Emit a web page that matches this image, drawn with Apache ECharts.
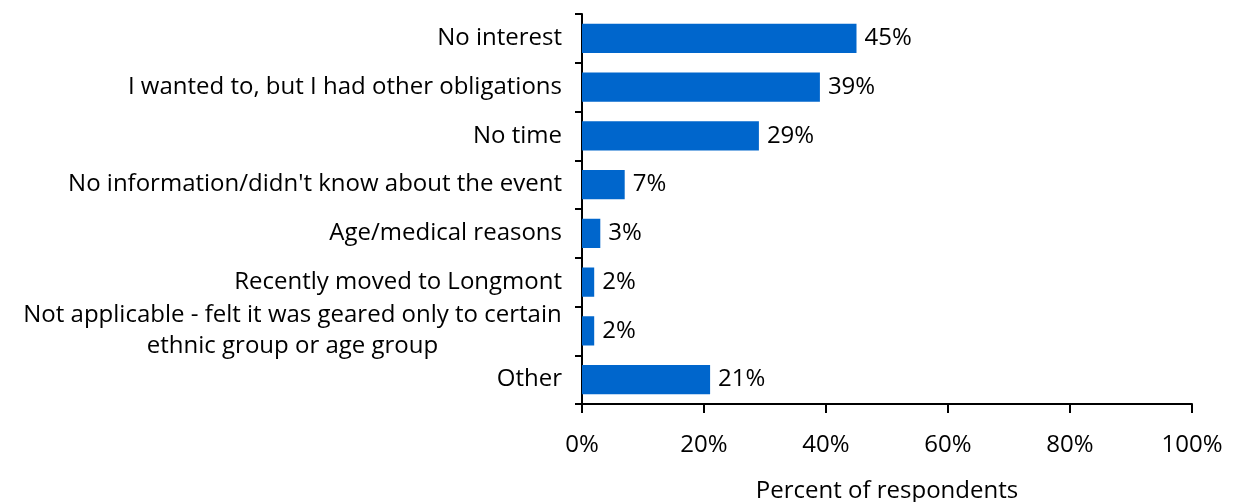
<!DOCTYPE html>
<html><head><meta charset="utf-8">
<script src="https://cdn.jsdelivr.net/npm/echarts@6/dist/echarts.min.js"></script>
<style>html,body{margin:0;padding:0;background:#fff;overflow:hidden}#c{width:1236px;height:502px}</style>
</head><body><div id="c"></div>
<script>
const categories = [
  "No interest",
  "I wanted to, but I had other obligations",
  "No time",
  "No information/didn't know about the event",
  "Age/medical reasons",
  "Recently moved to Longmont",
  "Not applicable - felt it was geared only to certain\nethnic group or age group",
  "Other"
];
const values = [45, 39, 29, 7, 3, 2, 2, 21];
const xTicks = [0, 20, 40, 60, 80, 100];
const axisName = "Percent of respondents";

const font = "'Open Sans', sans-serif";
const fs = 24;
const cvs = document.createElement('canvas').getContext('2d');
cvs.font = fs + "px 'Open Sans'";
function catFormatter(v) {
  if (v.indexOf('\n') < 0) return v;
  return v.split('\n').map(l => '{c|' + l + '}').join('\n');
}
const maxMulti = Math.ceil(Math.max(...categories.filter(c => c.includes('\n')).flatMap(c => c.split('\n')).map(l => cvs.measureText(l).width)));
const chart = echarts.init(document.getElementById('c'), null, {renderer: 'canvas', width: 1236, height: 502});
chart.setOption({
  animation: false,
  grid: {left: 582, width: 610, top: 14, height: 390, containLabel: false, outerBoundsMode: 'none'},
  xAxis: {
    type: 'value', min: xTicks[0], max: xTicks[xTicks.length - 1], interval: xTicks[1] - xTicks[0],
    axisLine: {show: true, lineStyle: {color: '#000', width: 2}},
    axisTick: {show: true, length: 9, lineStyle: {color: '#000', width: 2}},
    splitLine: {show: false},
    axisLabel: {formatter: v => v + '%', color: '#000', fontSize: fs, fontFamily: font, margin: 29},
    name: axisName, nameLocation: 'middle', nameGap: 75,
    nameTextStyle: {color: '#000', fontSize: fs, fontFamily: font}
  },
  yAxis: {
    type: 'category', data: categories, inverse: true,
    axisLine: {show: true, lineStyle: {color: '#000', width: 2}},
    axisTick: {show: true, length: 7, lineStyle: {color: '#000', width: 2}},
    axisLabel: {color: '#000', fontSize: fs, fontFamily: font, margin: 20, lineHeight: 31, align: 'right',
      formatter: catFormatter,
      rich: {c: {width: maxMulti, align: 'center', fontSize: fs, fontFamily: font, color: '#000', lineHeight: 31}}}
  },
  series: [{
    type: 'bar', data: values, barCategoryGap: '40%',
    itemStyle: {color: '#0066CC'},
    label: {show: true, position: 'right', distance: 8, formatter: p => p.value + '%',
      color: '#000', fontSize: fs, fontFamily: font}
  }]
});
</script></body></html>
